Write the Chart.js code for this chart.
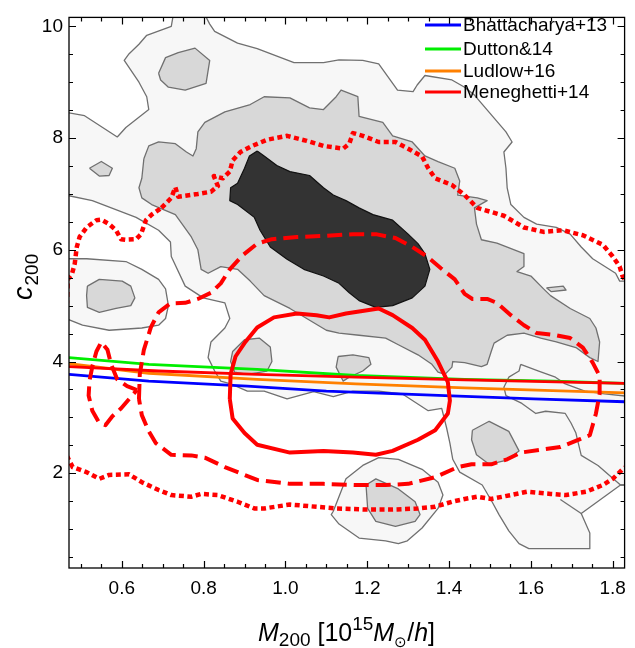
<!DOCTYPE html>
<html>
<head>
<meta charset="utf-8">
<script src="https://cdn.jsdelivr.net/npm/chart.js@4.4.1/dist/chart.umd.min.js"></script>
<style>
  html, body { margin: 0; padding: 0; background: #fff; }
  #wrap { width: 635px; height: 648px; }
</style>
</head>
<body>
<div id="wrap"><canvas id="chart" width="635" height="648"></canvas></div>
<script>
// axis ranges and tick labels
const X_MIN = 0.471, X_MAX = 1.829;
const Y_MIN = 0.304, Y_MAX = 10.16;
const X_TICKS = [0.6, 0.8, 1.0, 1.2, 1.4, 1.6, 1.8];
const X_TICK_LABELS = ['0.6', '0.8', '1.0', '1.2', '1.4', '1.6', '1.8'];
const Y_TICKS = [2, 4, 6, 8, 10];
const Y_TICK_LABELS = ['2', '4', '6', '8', '10'];

// model c(M) relations
const MODEL_NAMES = ['Bhattacharya+13', 'Dutton&14', 'Ludlow+16', 'Meneghetti+14'];
const MODEL_COLORS = ['#0000ff', '#00ee00', '#ff8000', '#ff0000'];
const bhattacharya = [[0.471,3.77],[0.666,3.65],[0.907,3.56],[1.100,3.47],[1.390,3.39],[1.607,3.33],[1.829,3.28]];
const dutton = [[0.471,4.07],[0.666,3.95],[0.931,3.86],[1.172,3.75],[1.438,3.68],[1.655,3.65],[1.829,3.61]];
const ludlow = [[0.471,3.96],[0.666,3.79],[0.931,3.68],[1.172,3.60],[1.438,3.53],[1.829,3.44]];
const meneghetti = [[0.471,3.91],[0.690,3.83],[0.931,3.77],[1.172,3.72],[1.438,3.67],[1.829,3.61]];

// grey filled contours (outer level)
const lightMain = [
  [0.463,8.46],[0.509,8.40],[0.589,8.02],[0.610,8.19],[0.666,8.51],[0.661,8.74],[0.642,9.00],[0.606,9.39],
  [0.618,9.51],[0.642,9.68],[0.661,9.84],[0.721,10.00],[0.726,10.21],[0.803,10.21],[0.815,10.04],[0.827,9.91],
  [0.883,9.70],[0.931,9.60],[1.021,9.35],[1.093,9.35],[1.131,9.40],[1.189,9.39],[1.228,9.33],[1.274,8.86],
  [1.312,8.83],[1.322,8.95],[1.341,9.12],[1.407,9.04],[1.438,8.91],[1.462,8.77],[1.539,8.11],[1.554,7.93],
  [1.534,7.75],[1.539,7.46],[1.542,7.11],[1.551,6.81],[1.583,6.58],[1.614,6.46],[1.662,6.40],[1.696,6.28],
  [1.723,6.05],[1.751,5.84],[1.807,5.58],[1.817,5.44],[1.848,5.44],[1.848,1.79],[1.819,1.79],[1.723,1.28],
  [1.744,0.93],[1.744,0.65],[1.595,0.65],[1.571,0.74],[1.546,0.97],[1.522,1.26],[1.505,1.49],[1.481,1.79],
  [1.426,2.02],[1.409,2.25],[1.402,2.54],[1.394,2.81],[1.382,3.16],[1.349,3.12],[1.286,3.42],[1.228,3.47],
  [1.165,3.47],[1.117,3.37],[1.069,3.46],[1.004,3.33],[0.948,3.47],[0.907,3.47],[0.866,3.60],[0.842,3.65],
  [0.827,3.83],[0.811,4.07],[0.818,4.35],[0.852,4.60],[0.864,4.77],[0.852,5.05],[0.799,5.14],[0.755,5.35],
  [0.721,5.88],[0.719,6.14],[0.690,6.35],[0.635,6.58],[0.528,6.88],[0.463,6.98]
];
const lightLeft = [
  [0.463,5.84],[0.514,5.84],[0.610,5.79],[0.649,5.65],[0.690,5.47],[0.707,5.30],[0.714,5.00],[0.707,4.77],
  [0.690,4.65],[0.649,4.60],[0.569,4.56],[0.504,4.65],[0.463,4.77]
];
const lightBottom = [
  [1.117,1.32],[1.148,1.90],[1.189,2.14],[1.228,2.28],[1.276,2.25],[1.334,2.07],[1.373,1.84],[1.385,1.61],
  [1.373,1.37],[1.334,1.02],[1.298,0.79],[1.276,0.74],[1.245,0.79],[1.180,0.84],[1.131,1.09],[1.112,1.26]
];
const lightRightLoop = [
  [1.575,3.95],[1.619,3.83],[1.660,3.72],[1.684,3.60],[1.732,3.47],[1.780,3.42],[1.848,3.37],[1.848,1.79],
  [1.819,1.79],[1.764,2.14],[1.723,2.32],[1.710,2.72],[1.698,2.90],[1.684,3.07],[1.636,3.11],[1.612,3.07],
  [1.578,3.25],[1.539,3.39],[1.534,3.54],[1.546,3.72],[1.571,3.83]
];
const lightNotch = [[1.672,1.53],[1.723,1.28]];

// middle level
const midMain = [
  [0.654,7.63],[0.666,7.86],[0.690,7.93],[0.731,7.90],[0.758,7.75],[0.774,7.68],[0.782,7.81],[0.786,8.11],
  [0.803,8.28],[0.852,8.47],[0.914,8.60],[0.948,8.74],[1.011,8.72],[1.059,8.54],[1.093,8.51],[1.124,8.74],
  [1.136,8.86],[1.177,8.74],[1.180,8.39],[1.238,8.28],[1.262,8.04],[1.310,7.93],[1.341,7.68],[1.373,7.58],
  [1.414,7.46],[1.426,7.23],[1.421,6.98],[1.469,6.93],[1.493,6.88],[1.462,6.75],[1.467,6.46],[1.479,6.18],
  [1.517,6.12],[1.583,5.93],[1.583,5.70],[1.566,5.61],[1.600,5.53],[1.631,5.30],[1.648,5.18],[1.696,4.95],
  [1.744,4.77],[1.759,4.60],[1.768,4.35],[1.764,4.00],[1.744,4.07],[1.710,4.25],[1.662,4.35],[1.624,4.42],
  [1.583,4.51],[1.542,4.47],[1.510,4.33],[1.503,4.18],[1.493,3.95],[1.479,3.91],[1.438,3.98],[1.409,4.00],
  [1.407,3.90],[1.390,3.77],[1.373,3.81],[1.358,3.95],[1.324,4.12],[1.276,4.30],[1.245,4.42],[1.180,4.47],
  [1.131,4.51],[1.100,4.56],[1.052,4.77],[1.011,4.95],[0.948,5.18],[0.914,5.44],[0.883,5.65],[0.842,5.70],
  [0.811,5.58],[0.794,5.65],[0.786,6.00],[0.770,6.23],[0.731,6.63],[0.673,6.81],[0.649,6.93],[0.642,7.11],
  [0.649,7.28]
];
const midTop = [[0.690,9.16],[0.707,9.44],[0.738,9.53],[0.779,9.61],[0.815,9.39],[0.806,8.98],[0.755,8.86],[0.714,8.91],[0.695,9.04]];
const midSmall = [[0.521,7.46],[0.550,7.58],[0.577,7.46],[0.569,7.33],[0.545,7.32]];
const midSliver = [[1.638,5.32],[1.679,5.35],[1.686,5.28],[1.650,5.25]];
const midLeft = [[0.516,5.35],[0.545,5.47],[0.601,5.44],[0.622,5.35],[0.632,5.14],[0.622,5.00],[0.586,4.95],[0.545,4.88],[0.516,4.97],[0.514,5.18]];
const midA = [[0.871,4.18],[0.900,4.39],[0.936,4.42],[0.963,4.26],[0.967,4.00],[0.955,3.83],[0.907,3.77],[0.876,3.81],[0.866,4.00]];
const midB = [[1.129,4.09],[1.165,4.12],[1.204,4.07],[1.209,3.95],[1.189,3.83],[1.156,3.72],[1.141,3.65],[1.124,3.90]];
const midC = [[1.457,2.77],[1.498,2.93],[1.546,2.75],[1.571,2.40],[1.539,2.23],[1.498,2.16],[1.467,2.33],[1.455,2.60]];
const midBottom = [[1.197,1.79],[1.221,1.90],[1.276,1.72],[1.317,1.49],[1.329,1.26],[1.317,1.14],[1.269,1.05],[1.221,1.14],[1.201,1.37]];

// inner (dark) level
const darkCore = [
  [0.931,7.77],[0.948,7.68],[0.979,7.51],[1.011,7.40],[1.059,7.33],[1.093,7.11],[1.117,6.98],[1.148,6.88],
  [1.180,6.75],[1.214,6.63],[1.262,6.53],[1.300,6.28],[1.324,6.11],[1.341,5.93],[1.353,5.65],[1.341,5.35],
  [1.310,5.14],[1.262,5.00],[1.221,4.97],[1.180,5.09],[1.156,5.23],[1.131,5.40],[1.093,5.53],[1.045,5.65],
  [1.004,5.83],[0.963,6.05],[0.938,6.35],[0.924,6.58],[0.883,6.81],[0.864,6.88],[0.866,7.11],[0.883,7.19],
  [0.900,7.46],[0.912,7.68]
];

// red contours
const redSolid = [
  [0.864,3.33],[0.866,3.77],[0.878,4.09],[0.900,4.33],[0.931,4.61],[0.972,4.79],[1.028,4.86],[1.076,4.83],
  [1.107,4.79],[1.148,4.86],[1.228,4.95],[1.262,4.83],[1.310,4.60],[1.341,4.39],[1.373,4.00],[1.397,3.63],
  [1.402,3.30],[1.397,3.07],[1.366,2.77],[1.324,2.60],[1.262,2.40],[1.221,2.33],[1.165,2.37],[1.093,2.40],
  [1.011,2.37],[0.931,2.51],[0.900,2.72],[0.871,2.98]
];
const redDashed = [
  [0.642,3.33],[0.644,3.77],[0.654,4.21],[0.671,4.61],[0.690,4.88],[0.719,5.04],[0.755,5.05],[0.786,5.12],
  [0.818,5.23],[0.842,5.40],[0.864,5.65],[0.895,5.90],[0.931,6.11],[0.967,6.19],[1.028,6.23],[1.100,6.25],
  [1.165,6.28],[1.221,6.28],[1.269,6.21],[1.310,6.05],[1.346,5.88],[1.380,5.67],[1.414,5.47],[1.438,5.21],
  [1.457,5.12],[1.493,5.12],[1.517,5.05],[1.551,4.83],[1.583,4.65],[1.614,4.51],[1.662,4.47],[1.696,4.42],
  [1.727,4.25],[1.751,3.98],[1.768,3.74],[1.768,3.42],[1.759,3.07],[1.751,2.86],[1.744,2.68],[1.720,2.61],
  [1.672,2.47],[1.624,2.42],[1.575,2.37],[1.542,2.25],[1.503,2.16],[1.455,2.16],[1.421,2.11],[1.366,1.93],
  [1.300,1.81],[1.245,1.79],[1.172,1.79],[1.093,1.81],[1.011,1.81],[0.931,1.88],[0.852,2.11],[0.803,2.28],
  [0.770,2.32],[0.721,2.33],[0.683,2.54],[0.666,2.75],[0.649,3.04]
];
const redDashedSmall = [
  [0.637,3.49],[0.613,3.56],[0.589,3.68],[0.574,3.95],[0.565,4.21],[0.550,4.35],[0.538,4.18],[0.528,3.91],
  [0.521,3.65],[0.519,3.39],[0.528,3.12],[0.545,2.90],[0.560,2.86],[0.577,3.02],[0.598,3.16],[0.618,3.33]
];
const redDotted = [
  [0.697,6.75],[0.721,6.93],[0.731,7.12],[0.738,6.95],[0.786,7.00],[0.818,7.04],[0.835,7.14],[0.825,7.32],
  [0.847,7.28],[0.864,7.40],[0.871,7.60],[0.890,7.75],[0.919,7.86],[0.955,7.97],[1.004,8.04],[1.052,7.95],
  [1.093,7.86],[1.141,7.81],[1.156,7.90],[1.165,8.09],[1.189,8.04],[1.228,7.93],[1.269,7.93],[1.300,7.81],
  [1.334,7.67],[1.349,7.46],[1.366,7.28],[1.407,7.16],[1.438,6.98],[1.469,6.75],[1.534,6.61],[1.583,6.40],
  [1.631,6.32],[1.679,6.35],[1.727,6.26],[1.776,6.09],[1.800,5.88],[1.817,5.70],[1.824,5.53],[1.848,5.26],
  [1.848,2.19],[1.824,2.07],[1.800,1.90],[1.776,1.79],[1.735,1.67],[1.686,1.61],[1.648,1.63],[1.590,1.67],
  [1.551,1.61],[1.503,1.54],[1.469,1.58],[1.438,1.54],[1.407,1.49],[1.366,1.40],[1.324,1.37],[1.262,1.35],
  [1.197,1.35],[1.124,1.37],[1.011,1.44],[0.948,1.37],[0.924,1.37],[0.883,1.49],[0.835,1.61],[0.794,1.63],
  [0.770,1.58],[0.721,1.61],[0.690,1.70],[0.649,1.84],[0.618,1.98],[0.569,1.97],[0.545,1.90],[0.514,2.02],
  [0.480,2.11],[0.468,2.28],[0.449,2.54],[0.449,5.00],[0.466,5.05],[0.468,5.47],[0.478,5.56],[0.485,5.75],
  [0.490,6.05],[0.497,6.23],[0.514,6.40],[0.538,6.53],[0.550,6.54],[0.569,6.46],[0.586,6.35],[0.598,6.19],
  [0.610,6.18],[0.635,6.19],[0.647,6.28],[0.659,6.53],[0.673,6.63]
];

const FONT = '"Liberation Sans", Arial, sans-serif';
const LIGHT = '#f7f7f7', MID = '#d8d8d8', DARK = '#333333', EDGE = '#707070';

const pts = a => a.map(([x, y]) => ({ x, y }));
const closed = a => pts(a.concat([a[0]]));

function region(data, fillColor, edgeColor, width) {
  return {
    data: closed(data), fill: fillColor ? 'shape' : false, backgroundColor: fillColor || 'transparent',
    borderColor: edgeColor, borderWidth: width, borderJoinStyle: 'round'
  };
}
function redLine(data, dash, width) {
  return {
    data: closed(data), fill: false, borderColor: '#ff0000', borderWidth: width,
    borderDash: dash, borderJoinStyle: 'round'
  };
}
function modelLine(data, i) {
  return { label: MODEL_NAMES[i], data: pts(data), fill: false, borderColor: MODEL_COLORS[i], borderWidth: 2.8 };
}

// listed bottom to top
const datasets = [
  region(lightMain, LIGHT, EDGE, 1.3),
  region(lightLeft, LIGHT, EDGE, 1.3),
  region(lightBottom, LIGHT, EDGE, 1.3),
  region(lightRightLoop, null, EDGE, 1.3),
  { data: pts(lightNotch), fill: false, borderColor: EDGE, borderWidth: 1.3 },
  region(midMain, MID, EDGE, 1.3),
  region(midTop, MID, EDGE, 1.3),
  region(midSmall, MID, EDGE, 1.3),
  region(midSliver, MID, EDGE, 1.3),
  region(midLeft, MID, EDGE, 1.3),
  region(midA, MID, EDGE, 1.3),
  region(midB, MID, EDGE, 1.3),
  region(midC, MID, EDGE, 1.3),
  region(midBottom, MID, EDGE, 1.3),
  region(darkCore, DARK, '#111', 1.2),
  modelLine(bhattacharya, 0),
  modelLine(dutton, 1),
  modelLine(ludlow, 2),
  modelLine(meneghetti, 3),
  redLine(redSolid, [], 4),
  redLine(redDashed, [15, 7], 4),
  redLine(redDashedSmall, [15, 7], 4),
  redLine(redDotted, [5, 3.5], 4.5)
];
datasets.forEach((d, i) => {
  d.order = datasets.length - i;
  d.pointRadius = 0;
  d.pointHoverRadius = 0;
  d.tension = 0;
  d.clip = 0;
});

// inward ticks on all four sides plus frame and legend
const framePlugin = {
  id: 'frame',
  afterDatasetsDraw(chart) {
    const { ctx, chartArea: a, scales: { x, y } } = chart;
    ctx.save();
    ctx.strokeStyle = '#000';
    ctx.lineWidth = 1.2;
    ctx.beginPath();
    for (let i = 10; i <= 36; i++) {
      const v = i * 0.05;
      if (v < X_MIN || v > X_MAX) continue;
      const px = Math.round(x.getPixelForValue(v)) + 0.5;
      const len = i % 4 === 0 ? 7 : 4;
      ctx.moveTo(px, a.bottom); ctx.lineTo(px, a.bottom - len);
      ctx.moveTo(px, a.top); ctx.lineTo(px, a.top + len);
    }
    for (let i = 1; i <= 20; i++) {
      const v = i * 0.5;
      if (v < Y_MIN || v > Y_MAX) continue;
      const py = Math.round(y.getPixelForValue(v)) + 0.5;
      const len = i % 4 === 0 ? 7 : 4;
      ctx.moveTo(a.left, py); ctx.lineTo(a.left + len, py);
      ctx.moveTo(a.right, py); ctx.lineTo(a.right - len, py);
    }
    ctx.stroke();
    ctx.lineWidth = 1.3;
    ctx.strokeRect(a.left, a.top, a.right - a.left, a.bottom - a.top);

    // legend
    const ly = [25, 49, 71, 92];
    ctx.font = '19px ' + FONT;
    ctx.textBaseline = 'middle';
    ctx.fillStyle = '#000';
    MODEL_NAMES.forEach((name, i) => {
      ctx.strokeStyle = MODEL_COLORS[i];
      ctx.lineWidth = 2.8;
      ctx.beginPath();
      ctx.moveTo(425, ly[i]); ctx.lineTo(461, ly[i]);
      ctx.stroke();
      ctx.fillText(name, 463, ly[i] + 1);
    });
    ctx.restore();
  }
};

// axis titles with sub/superscripts
const titlePlugin = {
  id: 'titles',
  afterDraw(chart) {
    const ctx = chart.ctx;
    ctx.save();
    ctx.fillStyle = '#000';
    ctx.textBaseline = 'alphabetic';
    const parts = [
      ['M', 'italic 25px ' + FONT, 0],
      ['200', '19px ' + FONT, 5],
      [' [10', '25px ' + FONT, 0],
      ['15', '19px ' + FONT, -11],
      ['M', 'italic 25px ' + FONT, 0],
      ['\u2299', '15px ' + FONT, 6],
      ['/', '25px ' + FONT, 0],
      ['h', 'italic 25px ' + FONT, 0],
      [']', '25px ' + FONT, 0]
    ];
    let tx = 258;
    for (const [t, f, dy] of parts) {
      ctx.font = f;
      ctx.fillText(t, tx, 641 + dy);
      tx += ctx.measureText(t).width;
    }
    ctx.translate(32, 300);
    ctx.rotate(-Math.PI / 2);
    ctx.font = 'italic 27px ' + FONT;
    ctx.fillText('c', 0, 0);
    const w = ctx.measureText('c').width;
    ctx.font = '19px ' + FONT;
    ctx.fillText('200', w + 1, 6);
    ctx.restore();
  }
};

new Chart(document.getElementById('chart'), {
  type: 'line',
  data: { datasets },
  plugins: [framePlugin, titlePlugin],
  options: {
    responsive: false,
    animation: false,
    events: [],
    layout: { padding: { top: 6, right: 3, left: 0, bottom: 0 } },
    plugins: { legend: { display: false }, tooltip: { enabled: false } },
    scales: {
      x: {
        type: 'linear', min: X_MIN, max: X_MAX,
        grid: { display: false, drawTicks: false }, border: { display: false },
        afterBuildTicks: s => { s.ticks = X_TICKS.map(v => ({ value: v })); },
        afterFit: s => { s.height = 80; },
        ticks: {
          autoSkip: false, maxRotation: 0, padding: 9, color: '#000',
          font: { family: FONT, size: 19 },
          callback: v => X_TICK_LABELS[X_TICKS.indexOf(v)]
        }
      },
      y: {
        type: 'linear', min: Y_MIN, max: Y_MAX,
        grid: { display: false, drawTicks: false }, border: { display: false },
        afterBuildTicks: s => { s.ticks = Y_TICKS.map(v => ({ value: v })); },
        afterFit: s => { s.width = 69; },
        ticks: {
          autoSkip: false, padding: 6, color: '#000',
          font: { family: FONT, size: 19 },
          callback: v => Y_TICK_LABELS[Y_TICKS.indexOf(v)]
        }
      }
    }
  }
});
</script>
</body>
</html>
